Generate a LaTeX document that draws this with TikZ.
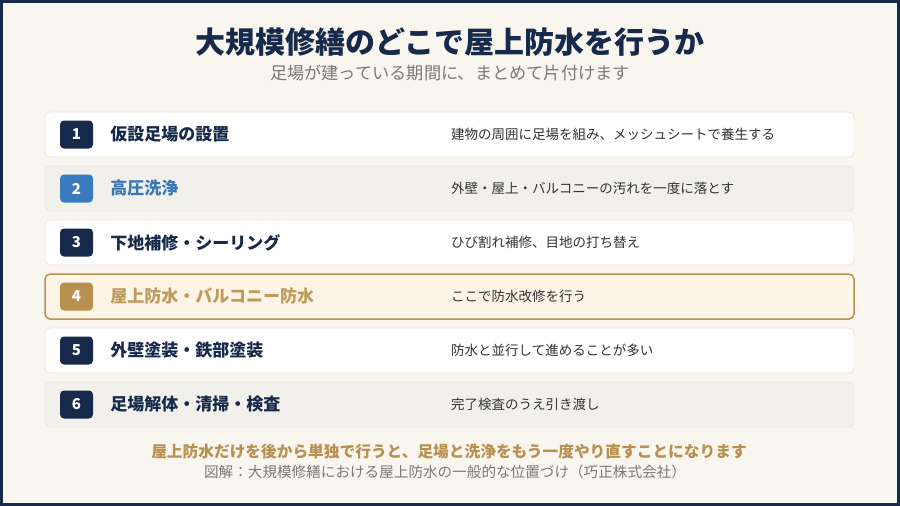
\documentclass[tikz,border=0pt]{standalone}
\usepackage{fontspec}
\setmainfont{Noto Sans CJK JP}
\usetikzlibrary{positioning}

\definecolor{navy}{HTML}{172A4B}
\definecolor{cream}{HTML}{F9F6EF}
\definecolor{rowline}{HTML}{ECE8DF}
\definecolor{rowgray}{HTML}{F2F0EB}
\definecolor{bluebadge}{HTML}{3A7BBF}
\definecolor{bluetext}{HTML}{3A78B4}
\definecolor{gold}{HTML}{B89150}
\definecolor{goldtext}{HTML}{C09A5C}
\definecolor{hlfill}{HTML}{FCF4E6}
\definecolor{desctext}{HTML}{333333}
\definecolor{subgray}{HTML}{7A7A7A}

\begin{document}
\begin{tikzpicture}[x=1pt,y=-1pt,
        row/.style={draw=rowline,line width=0.8pt,rounded corners=5pt,
            minimum width=809pt,minimum height=45pt,inner sep=0pt},
        badge/.style={fill=navy,rounded corners=4pt,minimum width=33pt,
            minimum height=28pt,inner sep=0pt,text=white,
            font=\fontsize{15}{18}\selectfont\bfseries},
        head/.style={inner sep=0pt,anchor=west,text=navy,
            font=\fontsize{17}{20}\selectfont\bfseries},
        desc/.style={inner sep=0pt,anchor=west,text=desctext,
            font=\fontsize{13.5}{16}\selectfont}]
    % frame
    \useasboundingbox (0,0) rectangle (900,506);
    \fill[navy] (0,0) rectangle (900,506);
    \fill[cream] (3,3) rectangle (897,503);

    \node[text=navy,font=\fontsize{30}{35}\selectfont\bfseries] (title) at (450,42)
        {大規模修繕のどこで屋上防水を行うか};
    \node[text=subgray,font=\fontsize{17.2}{20}\selectfont] (subtitle) at (450,73)
        {足場が建っている期間に、まとめて片付けます};

    % steps
    \node[row,fill=white] (r1) at (449.5,134.5) {};
    \node[badge] (b1) at (76.5,134.5) {1};
    \node[head,right=17pt of b1] (t1) {仮設足場の設置};
    \node[desc] (d1) at (451,134.5) {建物の周囲に足場を組み、メッシュシートで養生する};

    \node[row,fill=rowgray] (r2) at (449.5,188.5) {};
    \node[badge,fill=bluebadge] (b2) at (76.5,188.5) {2};
    \node[head,text=bluetext,right=17pt of b2] (t2) {高圧洗浄};
    \node[desc] (d2) at (451,188.5) {外壁・屋上・バルコニーの汚れを一度に落とす};

    \node[row,fill=white] (r3) at (449.5,242.5) {};
    \node[badge] (b3) at (76.5,242.5) {3};
    \node[head,right=17pt of b3] (t3) {下地補修・シーリング};
    \node[desc] (d3) at (451,242.5) {ひび割れ補修、目地の打ち替え};

    \node[row,fill=hlfill,draw=gold,line width=1.5pt] (r4) at (449.5,296.5) {};
    \node[badge,fill=gold] (b4) at (76.5,296.5) {4};
    \node[head,text=goldtext,right=17pt of b4] (t4) {屋上防水・バルコニー防水};
    \node[desc] (d4) at (451,296.5) {ここで防水改修を行う};

    \node[row,fill=white] (r5) at (449.5,350.5) {};
    \node[badge] (b5) at (76.5,350.5) {5};
    \node[head,right=17pt of b5] (t5) {外壁塗装・鉄部塗装};
    \node[desc] (d5) at (451,350.5) {防水と並行して進めることが多い};

    \node[row,fill=rowgray] (r6) at (449.5,404.5) {};
    \node[badge] (b6) at (76.5,404.5) {6};
    \node[head,right=17pt of b6] (t6) {足場解体・清掃・検査};
    \node[desc] (d6) at (451,404.5) {完了検査のうえ引き渡し};

    % footer
    \node[text=gold,font=\fontsize{15.7}{19}\selectfont\bfseries] (note) at (449,452)
        {屋上防水だけを後から単独で行うと、足場と洗浄をもう一度やり直すことになります};
    \node[text=subgray,font=\fontsize{14.6}{18}\selectfont] (caption) at (445,472)
        {図解：大規模修繕における屋上防水の一般的な位置づけ（巧正株式会社）};
\end{tikzpicture}
\end{document}
